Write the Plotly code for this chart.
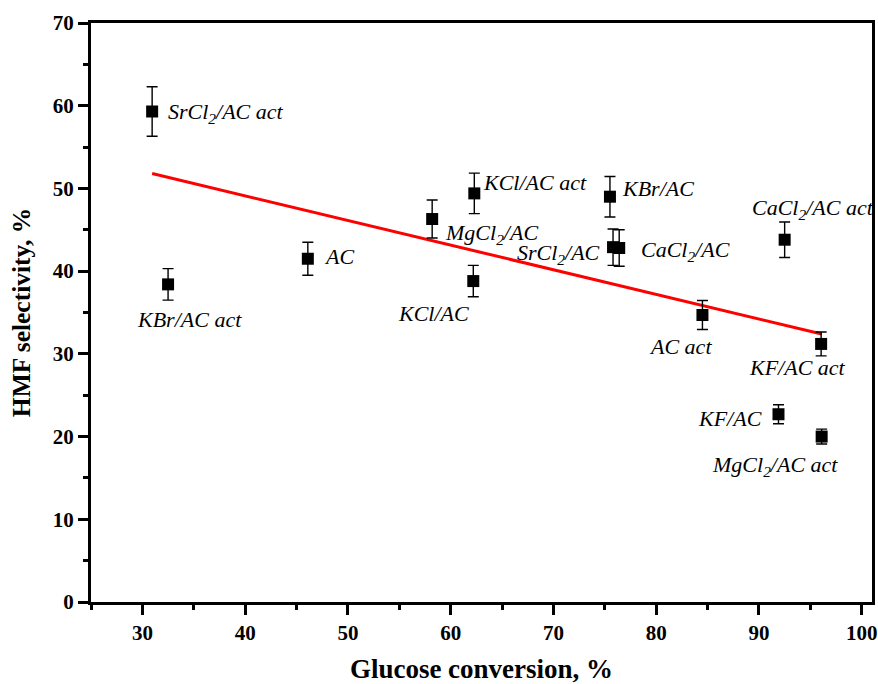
import plotly.graph_objects as go

# ---- data ----
samples = ["SrCl<sub>2</sub>/AC act", "KBr/AC act", "AC", "MgCl<sub>2</sub>/AC",
           "KCl/AC act", "KCl/AC", "KBr/AC", "SrCl<sub>2</sub>/AC",
           "CaCl<sub>2</sub>/AC", "CaCl<sub>2</sub>/AC act", "AC act",
           "KF/AC act", "KF/AC", "MgCl<sub>2</sub>/AC act"]
conversion = [30.95, 32.5, 46.1, 58.2, 62.3, 62.2, 75.5, 75.8, 76.4, 92.5, 84.5, 96.05, 91.9, 96.1]
selectivity = [59.3, 38.4, 41.5, 46.3, 49.4, 38.8, 49.0, 42.9, 42.8, 43.8, 34.7, 31.2, 22.7, 20.0]
sel_error = [3.0, 1.9, 2.0, 2.3, 2.45, 1.9, 2.45, 2.2, 2.2, 2.15, 1.75, 1.45, 1.15, 0.9]

fit_x = [30.95, 96.1]
fit_y = [51.8, 32.4]

x_ticks = [30, 40, 50, 60, 70, 80, 90, 100]
y_ticks = [0, 10, 20, 30, 40, 50, 60, 70]

# label placement (pixel offsets from the point: dx right, dy down) and anchor
label_dx = [14, 21, 14, 11, 7, -40, 10, -11, 20, 28, -22, -24, -14, -47]
label_dy = [1, 35, -2, 15, -11, 32, -8, 7, 3, -31, 32, 24, 4, 29]
label_anchor = ["left", "center", "left", "left", "left", "center", "left", "right",
                "left", "center", "center", "center", "right", "center"]

fig = go.Figure()

fig.add_trace(go.Scatter(
    x=fit_x, y=fit_y, mode="lines",
    line=dict(color="#ff0000", width=3), showlegend=False, hoverinfo="skip"))

fig.add_trace(go.Scatter(
    x=conversion, y=selectivity, mode="markers",
    marker=dict(symbol="square", size=12, color="black"),
    error_y=dict(type="data", array=sel_error, visible=True,
                 color="black", thickness=1.4, width=5.5),
    showlegend=False))

for xv, yv, txt, dx, dy, anc in zip(conversion, selectivity, samples, label_dx, label_dy, label_anchor):
    fig.add_annotation(
        x=xv, y=yv, xref="x", yref="y", text="<i>" + txt + "</i>", showarrow=False,
        xanchor=anc, yanchor="middle", xshift=dx, yshift=-dy,
        font=dict(family="Liberation Serif", size=22, color="black"))

axis_common = dict(
    showline=True, linewidth=3, linecolor="black", mirror=True,
    ticks="outside", ticklen=10, tickwidth=3, tickcolor="black",
    showgrid=False, zeroline=False, automargin=False,
    tickfont=dict(family="Liberation Serif", size=21, color="black"),
    minor=dict(ticks="outside", ticklen=5, tickwidth=3, tickcolor="black", dtick=5, showgrid=False),
)

fig.update_xaxes(
    range=[25, 101], tickmode="array", tickvals=x_ticks,
    ticktext=[f"<b>{v}</b>" for v in x_ticks],
    title=dict(text="<b>Glucose conversion, %</b>",
               font=dict(family="Liberation Serif", size=27, color="black")),
    **axis_common)
fig.update_yaxes(
    range=[0, 70], tickmode="array", tickvals=y_ticks,
    ticktext=[f"<b>{v}</b>" for v in y_ticks],
    title=dict(text="<b>HMF selectivity, %</b>",
               font=dict(family="Liberation Serif", size=25.5, color="black")),
    **axis_common)

fig.update_layout(
    width=878, height=684,
    margin=dict(l=91, r=6, t=23, b=82),
    plot_bgcolor="white", paper_bgcolor="white",
)

fig.write_html("out.html")
